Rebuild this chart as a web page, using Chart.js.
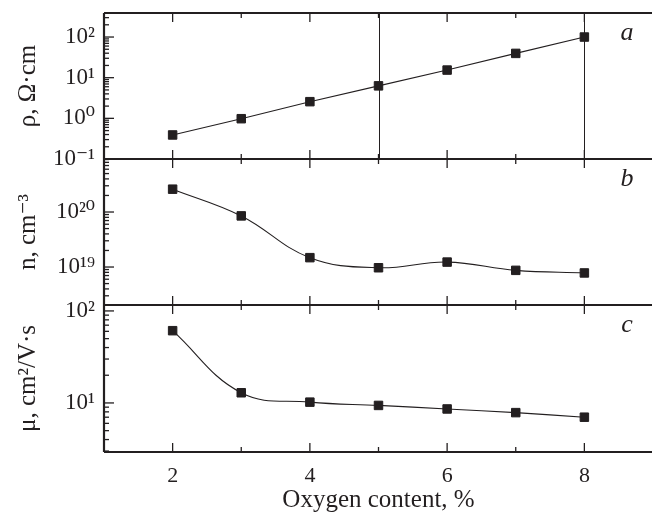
<!DOCTYPE html>
<html>
<head>
<meta charset="utf-8">
<title>Oxygen content</title>
<script src="https://cdn.jsdelivr.net/npm/chart.js@4.4.1/dist/chart.umd.min.js"></script>
<style>
  html, body { margin: 0; padding: 0; background: #fff; overflow: hidden; }
  #wrap { position: relative; width: 660px; height: 515px; }
  #wrap canvas { position: absolute; left: 0; top: 0; }
</style>
</head>
<body>
<div id="wrap">
  <canvas id="chartA" width="660" height="515"></canvas>
  <canvas id="chartB" width="660" height="515"></canvas>
  <canvas id="chartC" width="660" height="515"></canvas>
</div>
<script>
// data
const oxygen = [2, 3, 4, 5, 6, 7, 8];
const resistivity = [0.39, 0.98, 2.57, 6.3, 15.4, 39.6, 100];
const concentration = [2.6e20, 8.5e19, 1.48e19, 9.7e18, 1.23e19, 8.7e18, 7.8e18];
const mobility = [61, 12.9, 10.2, 9.4, 8.6, 7.85, 7.0];

const xTicks = [2, 4, 6, 8];
const rhoTicks = [0.1, 1, 10, 100];
const nTicks = [1e19, 1e20];
const muTicks = [10, 100];
const markerLines = [5, 8];

const INK = '#231f20';
const SERIF = "'Liberation Serif', 'DejaVu Serif', serif";

function supLabel(v) {
  const sup = { '0': '⁰', '1': '¹', '2': '²', '3': '³', '4': '⁴', '5': '⁵', '6': '⁶', '7': '⁷', '8': '⁸', '9': '⁹', '-': '⁻' };
  const e = String(Math.round(Math.log10(v)));
  return '10' + e.split('').map(c => sup[c]).join('');
}

// frame, inward ticks, panel letter, vertical markers
const framePlugin = {
  id: 'frame',
  afterDraw(chart, args, opts) {
    const { ctx, chartArea: a, scales: { x, y } } = chart;
    const seg = (x1, y1, x2, y2) => { ctx.beginPath(); ctx.moveTo(x1, y1); ctx.lineTo(x2, y2); ctx.stroke(); };
    ctx.save();
    ctx.strokeStyle = INK;

    ctx.lineWidth = 1;
    (opts.vlines || []).forEach(v => {
      const px = Math.round(x.getPixelForValue(v)) + 0.5;
      seg(px, a.top, px, a.bottom);
    });

    ctx.lineWidth = 1.3;
    for (let v = Math.ceil(x.min); v <= x.max; v++) {
      const px = x.getPixelForValue(v);
      const len = v % 2 === 0 ? 9 : 5;
      seg(px, a.top, px, a.top + len);
      seg(px, a.bottom, px, a.bottom - len);
    }
    const lo = Math.floor(Math.log10(y.min)), hi = Math.ceil(Math.log10(y.max));
    for (let e = lo; e <= hi; e++) {
      for (let m = 1; m < 10; m++) {
        const v = m * Math.pow(10, e);
        if (v < y.min * 0.999 || v > y.max * 1.001) continue;
        const py = y.getPixelForValue(v);
        seg(a.left, py, a.left + (m === 1 ? 10 : 5), py);
      }
    }

    ctx.lineWidth = 2.2;
    seg(a.left, a.top, a.right, a.top);
    seg(a.left, a.bottom, a.right, a.bottom);
    seg(a.left, a.top, a.left, a.bottom);

    ctx.fillStyle = INK;
    ctx.font = "italic 26px " + SERIF;
    ctx.textAlign = 'center';
    ctx.textBaseline = 'alphabetic';
    ctx.fillText(opts.letter, 627, a.top + 27);
    ctx.restore();
  }
};

function makePanel(id, values, opts) {
  const showX = !!opts.showX;
  new Chart(document.getElementById(id), {
    type: 'line',
    data: {
      datasets: [{
        data: oxygen.map((o, i) => ({ x: o, y: values[i] })),
        borderColor: INK,
        borderWidth: 1.1,
        tension: opts.tension,
        pointStyle: 'rect',
        pointRadius: 6,
        pointBackgroundColor: INK,
        pointBorderColor: INK,
        pointBorderWidth: 1
      }]
    },
    options: {
      responsive: false,
      animation: false,
      events: [],
      layout: { padding: { top: opts.top, bottom: opts.bottom, left: 0, right: 4 } },
      plugins: {
        legend: { display: false },
        tooltip: { enabled: false },
        frame: { letter: opts.letter, vlines: opts.vlines }
      },
      scales: {
        x: {
          type: 'linear',
          display: showX,
          min: 1,
          max: 9,
          afterBuildTicks: s => { s.ticks = xTicks.map(v => ({ value: v })); },
          afterFit: s => { s.height = showX ? 63 : 0; },
          grid: { display: false, drawTicks: false },
          border: { display: false },
          ticks: { color: INK, font: { family: SERIF, size: 22 }, padding: 11, maxRotation: 0 },
          title: {
            display: true,
            text: 'Oxygen content, %',
            color: INK,
            font: { family: SERIF, size: 25 },
            padding: { top: 2, bottom: 0 }
          }
        },
        y: {
          type: 'logarithmic',
          min: opts.min,
          max: opts.max,
          afterBuildTicks: s => { s.ticks = opts.ticks.map(v => ({ value: v })); },
          afterFit: s => { s.width = 104; },
          grid: { display: false, drawTicks: false },
          border: { display: false },
          ticks: {
            color: INK,
            font: { family: SERIF, size: 23, lineHeight: 0.3 },
            padding: 9,
            autoSkip: false,
            callback: v => supLabel(v)
          },
          title: {
            display: true,
            text: opts.title,
            color: INK,
            font: { family: SERIF, size: 25 },
            padding: { top: 13, bottom: 0 }
          }
        }
      }
    },
    plugins: [framePlugin]
  });
}

makePanel('chartA', resistivity, {
  letter: 'a', title: 'ρ, Ω·cm', min: 0.1, max: 390, ticks: rhoTicks,
  top: 13, bottom: 515 - 159, tension: 0, vlines: markerLines
});
makePanel('chartB', concentration, {
  letter: 'b', title: 'n, cm⁻³', min: 2.04e18, max: 9.2e20, ticks: nTicks,
  top: 159, bottom: 515 - 305, tension: 0.4
});
makePanel('chartC', mobility, {
  letter: 'c', title: 'μ, cm²/V·s', min: 2.93, max: 116, ticks: muTicks,
  top: 305, bottom: 0, tension: 0.4, showX: true
});
</script>
</body>
</html>
